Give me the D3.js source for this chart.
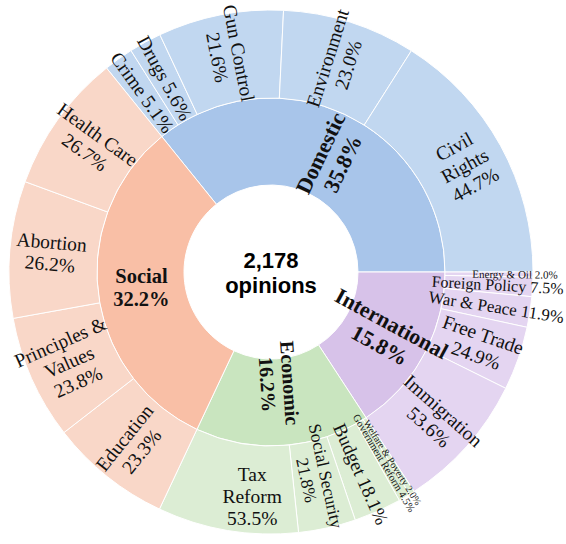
<!DOCTYPE html>
<html>
<head>
<meta charset="utf-8">
<script src="https://cdn.jsdelivr.net/npm/d3@7"></script>
<style>
  html, body { margin: 0; padding: 0; background: #fff; }
  svg { display: block; }
</style>
</head>
<body>
<div id="chart"></div>
<script>
// share of all opinions per top-level category (clockwise from the Social/Domestic edge)
const categories = ['Domestic', 'International', 'Economic', 'Social'];
const categoryShares = [35.8, 15.8, 16.2, 32.2];
const totalOpinions = 2178;

// share of each topic within its category
const domesticTopics = ['Crime', 'Drugs', 'Gun Control', 'Environment', 'Civil Rights'];
const domesticShares = [5.1, 5.6, 21.6, 23.0, 44.7];
const internationalTopics = ['Energy & Oil', 'Foreign Policy', 'War & Peace', 'Free Trade', 'Immigration'];
const internationalShares = [2.0, 7.5, 11.9, 24.9, 53.6];
const economicTopics = ['Welfare & Poverty', 'Government Reform', 'Budget', 'Social Security', 'Tax Reform'];
const economicShares = [2.0, 4.5, 18.1, 21.8, 53.5];
const socialTopics = ['Education', 'Principles & Values', 'Abortion', 'Health Care'];
const socialShares = [23.3, 23.8, 26.2, 26.7];

const topicLists = [
    [domesticTopics, domesticShares],
    [internationalTopics, internationalShares],
    [economicTopics, economicShares],
    [socialTopics, socialShares]
];

// label layout ({v} is replaced by the percentage)
const label_lines = {
    'Crime': ['Crime {v}'], 'Drugs': ['Drugs {v}'], 'Gun Control': ['Gun Control', '{v}'],
    'Environment': ['Environment', '{v}'], 'Civil Rights': ['Civil', 'Rights', '{v}'],
    'Energy & Oil': ['Energy & Oil {v}'], 'Foreign Policy': ['Foreign Policy {v}'],
    'War & Peace': ['War & Peace {v}'], 'Free Trade': ['Free Trade', '{v}'], 'Immigration': ['Immigration', '{v}'],
    'Welfare & Poverty': ['Welfare & Poverty {v}'], 'Government Reform': ['Government Reform {v}'],
    'Budget': ['Budget {v}'], 'Social Security': ['Social Security', '{v}'], 'Tax Reform': ['Tax', 'Reform', '{v}'],
    'Education': ['Education', '{v}'], 'Principles & Values': ['Principles &', 'Values', '{v}'],
    'Abortion': ['Abortion', '{v}'], 'Health Care': ['Health Care', '{v}']
};
const font_sizes = {
    'Energy & Oil': 11, 'Foreign Policy': 16, 'War & Peace': 17,
    'Welfare & Poverty': 10, 'Government Reform': 10.5, 'Budget': 19, 'Social Security': 17.5,
    'Domestic': 22, 'International': 22, 'Economic': 20, 'Social': 20.5
};
// thin slices push their text outward, roomy ones sit nearer the middle
const label_radius = {
    'Energy & Oil': 244, 'Foreign Policy': 227, 'War & Peace': 228,
    'Social Security': 211, 'Welfare & Poverty': 226, 'Government Reform': 222, 'Economic': 112
};
const label_nudge = {'Tax Reform': [18, 6], 'Domestic': [4, 4]};
const horizontal_labels = ['Social', 'Tax Reform'];

const inner_colors = {Domestic: '#a8c5ea', International: '#d7c2e9', Economic: '#c9e5bf', Social: '#f9bfa6'};
const outer_colors = {Domestic: '#c1d7f0', International: '#e4d5f1', Economic: '#dcedd4', Social: '#f9d7c8'};

const width = 566, height = 544;
const cx = 271, cy = 272;
const r_hole = 87, r_mid = 174, r_out = 262;

// build hierarchy; topic values scaled so each category keeps its own share
let root_data = {name: 'root', children: categories.map((c, i) => {
    let [topics, shares] = topicLists[i];
    let sum = d3.sum(shares);
    return {
        name: c, share: categoryShares[i],
        children: topics.map((t, j) => ({name: t, share: shares[j], value: categoryShares[i] * shares[j] / sum}))
    };
})};

let root = d3.hierarchy(root_data).sum(d => d.children ? 0 : d.value);
d3.partition().size([2 * Math.PI, 3])(root);

const offset = Math.PI / 2 - 2 * Math.PI * categoryShares[0] / 100;

let svg = d3.select('#chart').append('svg').attr('width', width).attr('height', height);
let g = svg.append('g').attr('transform', `translate(${cx},${cy})`);

let arc = d3.arc()
    .startAngle(d => d.x0 + offset)
    .endAngle(d => d.x1 + offset)
    .innerRadius(d => d.depth === 1 ? r_hole : r_mid)
    .outerRadius(d => d.depth === 1 ? r_mid : r_out);

let nodes = root.descendants().filter(d => d.depth > 0);

g.selectAll('path.seg')
    .data(nodes)
    .join('path')
    .attr('class', 'seg')
    .attr('d', arc)
    .attr('fill', d => d.depth === 1 ? inner_colors[d.data.name] : outer_colors[d.parent.data.name])
    .attr('stroke', '#fff')
    .attr('stroke-width', 1);

function label_position(d) {
    let a = (d.x0 + d.x1) / 2 + offset;
    let r = label_radius[d.data.name] || (d.depth === 1 ? (r_hole + r_mid) / 2 : (r_mid + r_out) / 2 + 3);
    let deg = a * 180 / Math.PI;
    while (deg >= 180) deg -= 360;
    while (deg < -180) deg += 360;
    let rot = deg >= 0 ? deg - 90 : deg + 90;
    if (horizontal_labels.includes(d.data.name)) rot = 0;
    let nudge = label_nudge[d.data.name] || [0, 0];
    return {x: r * Math.sin(a) + nudge[0], y: -r * Math.cos(a) + nudge[1], rot: rot};
}

let labels = g.selectAll('g.label')
    .data(nodes)
    .join('g')
    .attr('class', 'label')
    .attr('transform', d => {
        let p = label_position(d);
        return `translate(${p.x},${p.y}) rotate(${p.rot})`;
    });

labels.each(function (d) {
    let pct = d.data.share.toFixed(1) + '%';
    let lines = d.depth === 1 ? [d.data.name, pct] : label_lines[d.data.name].map(l => l.replace('{v}', pct));
    let size = font_sizes[d.data.name] || 19.5;
    let lh = size * 1.12;
    let text = d3.select(this).append('text')
        .attr('text-anchor', 'middle')
        .attr('font-family', '"Liberation Serif", "Times New Roman", serif')
        .attr('font-size', size)
        .attr('font-weight', d.depth === 1 ? 'bold' : 'normal')
        .attr('fill', '#111');
    lines.forEach((line, i) => {
        text.append('tspan')
            .attr('x', 0)
            .attr('y', (i - (lines.length - 1) / 2) * lh)
            .attr('dy', '0.35em')
            .text(line);
    });
});

// centre total
let center = g.append('text')
    .attr('text-anchor', 'middle')
    .attr('font-family', '"Liberation Sans", Arial, sans-serif')
    .attr('font-weight', 'bold')
    .attr('font-size', 22)
    .attr('fill', '#000');
center.append('tspan').attr('x', 0).attr('y', -4).text(d3.format(',')(totalOpinions));
center.append('tspan').attr('x', 0).attr('y', 21).text('opinions');
</script>
</body>
</html>
